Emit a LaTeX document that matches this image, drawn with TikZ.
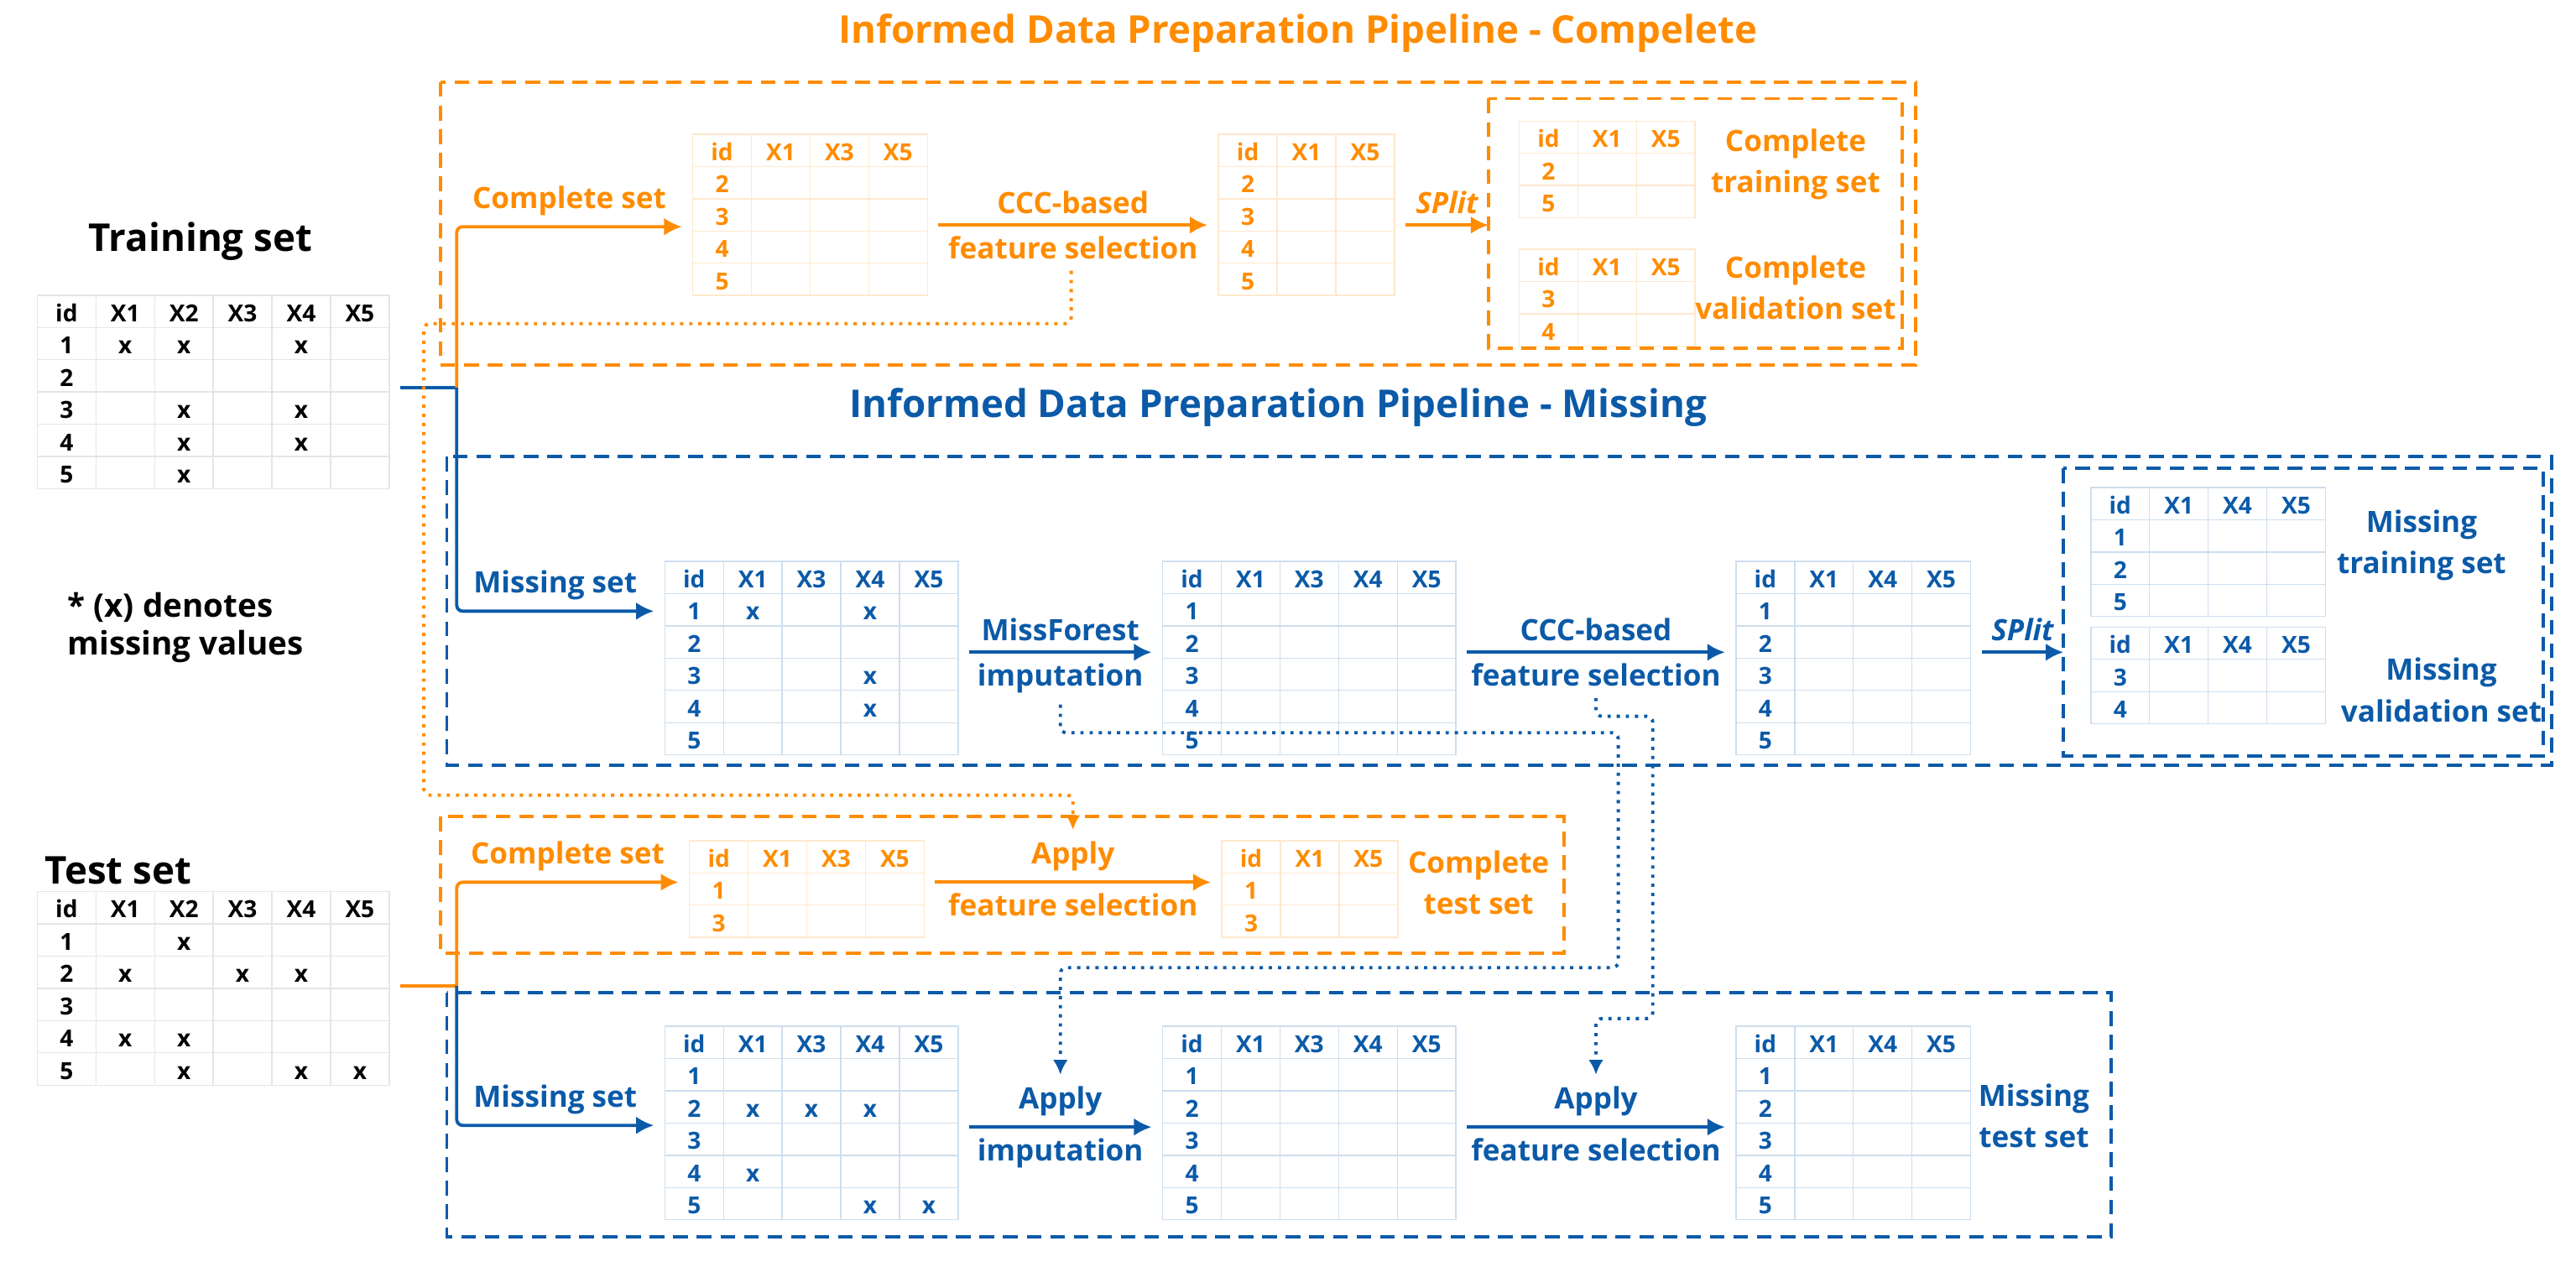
\documentclass[tikz,border=0pt]{standalone}
\usepackage{fontspec}
\setmainfont{Open Sans}
\usetikzlibrary{matrix,arrows.meta,calc}
\definecolor{orangeC}{HTML}{FF8C00}
\definecolor{blueC}{HTML}{0B5AA8}
\newcommand\cellfont{\bfseries\fontsize{8}{9}\selectfont}
\newcommand\lblfont{\bfseries\fontsize{10}{14}\selectfont}
\newcommand\ttlfont{\bfseries\fontsize{13}{15}\selectfont}
\tikzset{
  tbl/.style 2 args={matrix of nodes, nodes in empty cells, anchor=north west,
    column sep=-\pgflinewidth, row sep=-\pgflinewidth,
    nodes={draw=#1, line width=0.4pt, anchor=center, minimum width=0.70cm, minimum height=0.385cm,
      text height=1.6ex, text depth=0.3ex, inner sep=0pt, font=\cellfont, text=#2}},
  otbl/.style={tbl={orangeC!20}{orangeC}},
  btbl/.style={tbl={blueC!20}{blueC}},
  arr/.style={line width=1.1pt, -{Latex[length=6pt,width=6pt]}, rounded corners=2pt},
  lbl/.style={font=\lblfont, align=center},
  dbox/.style={line width=1.1pt, dash pattern=on 5pt off 3pt},
  link/.style={line width=1.1pt, dotted, rounded corners=2pt, -{Latex[length=5pt,width=5pt]}},
}
\begin{document}
\begin{tikzpicture}[x=0.0196cm, y=-0.0196cm]
\useasboundingbox (0,0) rectangle (1568,768);

% titles
\node[font=\ttlfont, text=orangeC] (ttlC) at (790,20) {Informed Data Preparation Pipeline - Compelete};
\node[font=\ttlfont, text=blueC] (ttlM) at (778,248) {Informed Data Preparation Pipeline - Missing};
\node[font=\ttlfont] (ttlTrain) at (122,147) {Training set};
\node[font=\ttlfont] (ttlTest) at (72,530) {Test set};
\node[font=\bfseries\fontsize{11}{13}\selectfont, align=left] (note) at (113,382) {* (x) denotes\\ missing values};

% boxes
\draw[dbox, orangeC] (268,50) rectangle (1166,222);
\draw[dbox, orangeC] (906,60) rectangle (1158,212);
\draw[dbox, blueC] (272,278) rectangle (1553,466);
\draw[dbox, blueC] (1256,285) rectangle (1548,460);
\draw[dbox, orangeC] (268,497) rectangle (952,580);
\draw[dbox, blueC] (272,604) rectangle (1285,753);

% source tables
\matrix[tbl={black!10}{black}] (train) at (16,173) {
id & X1 & X2 & X3 & X4 & X5 \\
1 & x & x & & x & \\
2 & & & & & \\
3 & & x & & x & \\
4 & & x & & x & \\
5 & & x & & & \\
};
\matrix[tbl={black!10}{black}] (test) at (16,536) {
id & X1 & X2 & X3 & X4 & X5 \\
1 & & x & & & \\
2 & x & & x & x & \\
3 & & & & & \\
4 & x & x & & & \\
5 & & x & & x & x \\
};

% complete pipeline (training)
\matrix[otbl] (c1) at (415,75) {
id & X1 & X3 & X5 \\
2 & & & \\
3 & & & \\
4 & & & \\
5 & & & \\
};
\matrix[otbl] (c2) at (735,75) {
id & X1 & X5 \\
2 & & \\
3 & & \\
4 & & \\
5 & & \\
};
\matrix[otbl] (ctrain) at (918,67) {
id & X1 & X5 \\
2 & & \\
5 & & \\
};
\matrix[otbl] (cval) at (918,145) {
id & X1 & X5 \\
3 & & \\
4 & & \\
};
\node[lbl, text=orangeC] (ctrainL) at (1093,100) {Complete\\ training set};
\node[lbl, text=orangeC] (cvalL) at (1093,175) {Complete\\ validation set};

% missing pipeline (training)
\matrix[btbl] (m1) at (398,335) {
id & X1 & X3 & X4 & X5 \\
1 & x & & x & \\
2 & & & & \\
3 & & & x & \\
4 & & & x & \\
5 & & & & \\
};
\matrix[btbl] (m2) at (701,335) {
id & X1 & X3 & X4 & X5 \\
1 & & & & \\
2 & & & & \\
3 & & & & \\
4 & & & & \\
5 & & & & \\
};
\matrix[btbl] (m3) at (1050,335) {
id & X1 & X4 & X5 \\
1 & & & \\
2 & & & \\
3 & & & \\
4 & & & \\
5 & & & \\
};
\matrix[btbl] (mtrain) at (1266,290) {
id & X1 & X4 & X5 \\
1 & & & \\
2 & & & \\
5 & & & \\
};
\matrix[btbl] (mval) at (1266,375) {
id & X1 & X4 & X5 \\
3 & & & \\
4 & & & \\
};
\node[lbl, text=blueC] (mtrainL) at (1474,332) {Missing\\ training set};
\node[lbl, text=blueC] (mvalL) at (1486,420) {Missing\\ validation set};

% complete pipeline (test)
\matrix[otbl] (tc1) at (413,505) {
id & X1 & X3 & X5 \\
1 & & & \\
3 & & & \\
};
\matrix[otbl] (tc2) at (737,505) {
id & X1 & X5 \\
1 & & \\
3 & & \\
};
\node[lbl, text=orangeC] (tcL) at (900,537) {Complete\\ test set};

% missing pipeline (test)
\matrix[btbl] (tm1) at (398,618) {
id & X1 & X3 & X4 & X5 \\
1 & & & & \\
2 & x & x & x & \\
3 & & & & \\
4 & x & & & \\
5 & & & x & x \\
};
\matrix[btbl] (tm2) at (701,618) {
id & X1 & X3 & X4 & X5 \\
1 & & & & \\
2 & & & & \\
3 & & & & \\
4 & & & & \\
5 & & & & \\
};
\matrix[btbl] (tm3) at (1050,618) {
id & X1 & X4 & X5 \\
1 & & & \\
2 & & & \\
3 & & & \\
4 & & & \\
5 & & & \\
};
\node[lbl, text=blueC] (tmL) at (1238,679) {Missing\\ test set};

% splitting the sets
\draw[line width=1.1pt, blueC] (train.east |- 0,236) -- (278,236);
\draw[arr, orangeC] (278,236) |- node[pos=0.75, above, lbl] (csetL) {Complete set} (c1.west |- 0,138);
\draw[arr, blueC] (278,236) |- node[pos=0.75, above, lbl] (msetL) {Missing set} (m1.west |- 0,372);
\draw[line width=1.1pt, orangeC] (test.east |- 0,600) -- (278,600);
\draw[arr, orangeC] (278,600) |- node[pos=0.75, above, lbl] (tcsetL) {Complete set} (tc1.west |- 0,537);
\draw[arr, blueC] (278,600) |- node[pos=0.75, above, lbl] (tmsetL) {Missing set} (tm1.west |- 0,685);

% steps
\draw[arr, orangeC] (c1.east |- 0,137) -- node[above, lbl] (cccA) {CCC-based} node[below, lbl] (cccB) {feature selection} (c2.west |- 0,137);
\draw[arr, orangeC] (c2.east |- 0,137) -- node[above, lbl, font=\lblfont\itshape] (splitC) {SPlit} (906,137);
\draw[arr, blueC] (m1.east |- 0,397) -- node[above, lbl] (mfA) {MissForest} node[below, lbl] (mfB) {imputation} (m2.west |- 0,397);
\draw[arr, blueC] (m2.east |- 0,397) -- node[above, lbl] (mcccA) {CCC-based} node[below, lbl] (mcccB) {feature selection} (m3.west |- 0,397);
\draw[arr, blueC] (m3.east |- 0,397) -- node[above, lbl, font=\lblfont\itshape] (splitM) {SPlit} (1256,397);
\draw[arr, orangeC] (tc1.east |- 0,537) -- node[above, lbl] (tfsA) {Apply} node[below, lbl] (tfsB) {feature selection} (tc2.west |- 0,537);
\draw[arr, blueC] (tm1.east |- 0,686) -- node[above, lbl] (timpA) {Apply} node[below, lbl] (timpB) {imputation} (tm2.west |- 0,686);
\draw[arr, blueC] (tm2.east |- 0,686) -- node[above, lbl] (tmfsA) {Apply} node[below, lbl] (tmfsB) {feature selection} (tm3.west |- 0,686);

% reuse of fitted steps on the test set
\draw[link, orangeC] (cccB.south -| 652,0) |- (258,197) |- (tfsA.north |- 0,484) -- (tfsA.north);
\draw[link, blueC] (mfB.south) |- (985,446) |- (timpA.north |- 0,589) -- (timpA.north);
\draw[link, blueC] (mcccB.south) |- (1006,436) |- (tmfsA.north |- 0,620) -- (tmfsA.north);
\end{tikzpicture}
\end{document}
